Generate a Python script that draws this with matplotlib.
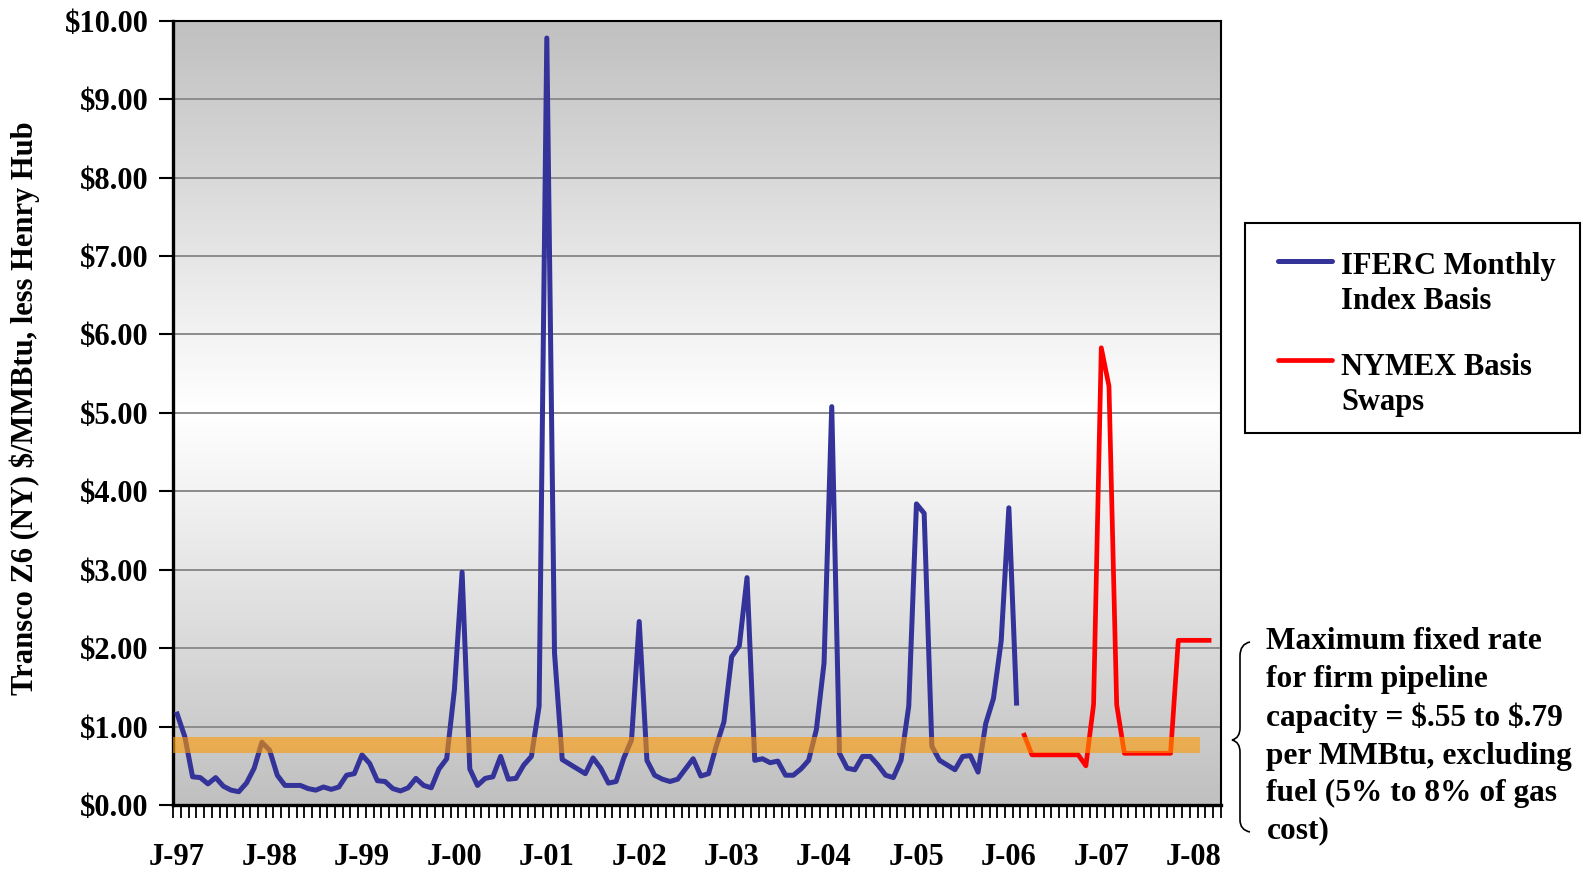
import numpy as np
import matplotlib
matplotlib.use("Agg")
import matplotlib.pyplot as plt
from matplotlib.colors import LinearSegmentedColormap
from matplotlib.lines import Line2D
from matplotlib.patches import Rectangle, PathPatch
from matplotlib.path import Path

plt.rcParams['font.family'] = ['Liberation Serif', 'DejaVu Serif']
plt.rcParams['font.weight'] = 'bold'

## Data (monthly, Jan-97 = index 0)
years = ['97', '98', '99', '00', '01', '02', '03', '04', '05', '06', '07', '08']
n_months = 136

# IFERC monthly index basis, Jan-97 .. Feb-06
iferc_basis = [1.16, 0.87, 0.36, 0.35, 0.27, 0.35, 0.24, 0.19, 0.17, 0.28, 0.47, 0.80,
               0.70, 0.38, 0.25, 0.25, 0.25, 0.21, 0.19, 0.23, 0.20, 0.23, 0.38, 0.40,
               0.64, 0.53, 0.31, 0.30, 0.21, 0.18, 0.22, 0.34, 0.25, 0.22, 0.46, 0.59,
               1.47, 2.97, 0.46, 0.25, 0.34, 0.36, 0.62, 0.33, 0.34, 0.51, 0.62, 1.26,
               9.78, 1.94, 0.58, 0.52, 0.46, 0.40, 0.60, 0.47, 0.28, 0.30, 0.60, 0.83,
               2.34, 0.57, 0.38, 0.33, 0.30, 0.33, 0.46, 0.59, 0.37, 0.40, 0.75, 1.06,
               1.89, 2.03, 2.90, 0.57, 0.59, 0.54, 0.56, 0.38, 0.38, 0.46, 0.57, 0.96,
               1.81, 5.08, 0.66, 0.47, 0.45, 0.62, 0.62, 0.51, 0.38, 0.35, 0.57, 1.26,
               3.84, 3.72, 0.75, 0.57, 0.51, 0.45, 0.62, 0.63, 0.42, 1.04, 1.36, 2.09,
               3.79, 1.30]

# NYMEX basis swaps, Mar-06 .. Mar-08
nymex_start = 110
nymex_basis = [0.89, 0.64, 0.64, 0.64, 0.64, 0.64, 0.64, 0.64, 0.50, 1.28, 5.83, 5.34,
               1.28, 0.66, 0.66, 0.66, 0.66, 0.66, 0.66, 0.66, 2.10, 2.10, 2.10, 2.10,
               2.10]

# shaded band for the pipeline capacity rate
band_low = 0.66
band_high = 0.87
band_end = 132.8

fig = plt.figure(figsize=(15.9, 8.69), dpi=100)
ax = fig.add_axes([0.1090, 0.0736, 0.6587, 0.9025])

# grey - white - grey background
grad = np.abs(np.linspace(-1, 1, 256))[:, None]
bg_cmap = LinearSegmentedColormap.from_list('bg', ['#ffffff', '#c0c0c0'])
ax.imshow(grad, extent=[-0.5, n_months - 0.5, 0, 10], aspect='auto',
          cmap=bg_cmap, origin='lower', zorder=0)

ax.plot(np.arange(len(iferc_basis)), iferc_basis, color='#333399', lw=3.6, zorder=3)
ax.plot(np.arange(nymex_start, nymex_start + len(nymex_basis)), nymex_basis,
        color='#ff0000', lw=3.4, zorder=3)
ax.fill_between([-0.5, band_end], band_low, band_high, color='#ff9900',
                alpha=0.6, lw=0, zorder=4)

ax.set_xlim(-0.5, n_months - 0.5)
ax.set_ylim(0, 10)

ax.set_yticks(np.arange(0, 11))
ax.set_yticklabels(['$%.2f' % v for v in range(11)])
ax.yaxis.grid(True, color='#8c8c8c', lw=1.4)
ax.set_axisbelow(True)
ax.tick_params(axis='y', direction='out', length=10, width=1.5, pad=8, labelsize=22)

ax.set_xticks(np.arange(-0.5, n_months, 1))
ax.set_xticklabels([])
ax.set_xticks(np.arange(0, n_months, 12), labels=['J-' + y for y in years], minor=True)
ax.tick_params(axis='x', which='major', direction='out', length=9, width=1.3)
ax.tick_params(axis='x', which='minor', length=0, pad=27, labelsize=22)

for side in ['left', 'bottom']:
    ax.spines[side].set_linewidth(2.4)
for side in ['top', 'right']:
    ax.spines[side].set_linewidth(1.5)

ax.set_ylabel('Transco Z6 (NY) \\$/MMBtu, less Henry Hub', fontsize=22, fontweight='bold')
ax.yaxis.set_label_coords(-0.127, 0.506)

# legend box
fig.add_artist(Rectangle((0.7830, 0.5017), 0.2107, 0.2417, transform=fig.transFigure,
                         fill=False, ec='black', lw=1.5))
fig.add_artist(Line2D([0.8038, 0.8377], [0.7001, 0.7001], transform=fig.transFigure,
                      color='#333399', lw=3.6, solid_capstyle='round'))
fig.add_artist(Line2D([0.8038, 0.8377], [0.5857, 0.5857], transform=fig.transFigure,
                      color='#ff0000', lw=3.4, solid_capstyle='round'))
fig.text(0.8437, 0.7100, 'IFERC Monthly\nIndex Basis', fontsize=22, va='top',
         linespacing=1.25)
fig.text(0.8437, 0.5935, 'NYMEX Basis\nSwaps', fontsize=22, va='top',
         linespacing=1.25)

# brace + note
W, H = 1590.0, 869.0
brace_px = [(1250, 642), (1240, 644), (1240, 656), (1240, 728), (1240, 738), (1232, 740),
            (1240, 742), (1240, 752), (1240, 820), (1240, 830), (1250, 832)]
codes = [Path.MOVETO, Path.CURVE3, Path.CURVE3, Path.LINETO, Path.CURVE3, Path.CURVE3,
         Path.CURVE3, Path.CURVE3, Path.LINETO, Path.CURVE3, Path.CURVE3]
brace = Path([(x / W, 1 - y / H) for x, y in brace_px], codes)
fig.add_artist(PathPatch(brace, transform=fig.transFigure, fill=False, ec='black', lw=1.2))

fig.text(0.7965, 0.2780, 'Maximum fixed rate\nfor firm pipeline\ncapacity = \\$.55 to \\$.79\n'
         'per MMBtu, excluding\nfuel (5% to 8% of gas\ncost)', fontsize=22.6,
         va='top', linespacing=1.38)

fig.savefig('out.png', dpi=100)
